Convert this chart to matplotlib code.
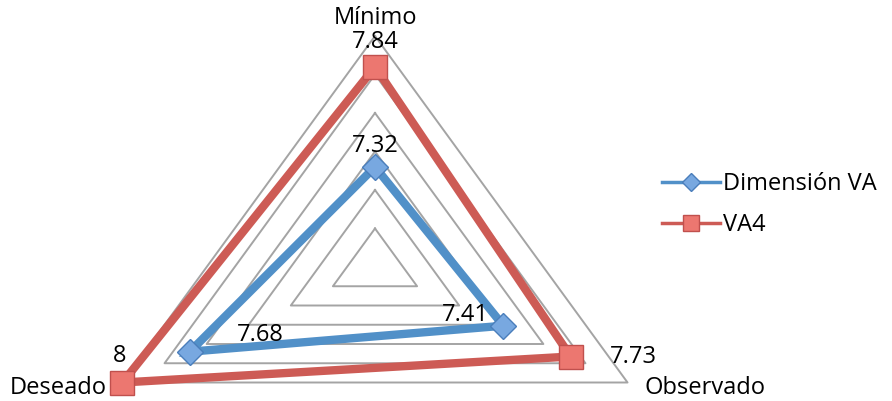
import numpy as np
import matplotlib
matplotlib.use("Agg")
import matplotlib.pyplot as plt
from matplotlib.lines import Line2D

plt.rcParams['font.family'] = ['Open Sans', 'DejaVu Sans']

# data
categories = ["Mínimo", "Observado", "Deseado"]
dimension_va = [7.32, 7.41, 7.68]
va4 = [7.84, 7.73, 8]
r_min, r_max, r_step = 6.8, 8.0, 0.2

angles = np.deg2rad([90, -30, 210])

def to_xy(vals):
    r = np.asarray(vals, dtype=float) - r_min
    return r*np.cos(angles), r*np.sin(angles)

fig = plt.figure(figsize=(8.92, 4.01), dpi=100)
ax = fig.add_axes([0, 0, 1, 1])
ax.axis('off')

# pixel scaling of the original (triangle is squashed vertically)
cx, cy = 375, 267
sx, sy = 243.0, 192.5
ax.set_xlim((0-cx)/sx, (892-cx)/sx)
ax.set_ylim((cy-401)/sy, (cy-0)/sy)

# grid rings
for lev in np.arange(r_min + r_step, r_max + 1e-9, r_step):
    gx, gy = to_xy([lev]*3)
    ax.plot(np.append(gx, gx[0]), np.append(gy, gy[0]), color='#a4a4a4', lw=1.4, zorder=1)

blue = '#5190C8'
red = '#CD5B55'

bx, by = to_xy(dimension_va)
ax.plot(np.append(bx, bx[0]), np.append(by, by[0]), color=blue, lw=6, zorder=3,
        solid_joinstyle='miter')
ax.plot(bx, by, ls='none', marker='D', ms=13, mfc='#78A8E0', mec='#4A7EBB', mew=1, zorder=4)

rx, ry = to_xy(va4)
ax.plot(np.append(rx, rx[0]), np.append(ry, ry[0]), color=red, lw=6, zorder=3,
        solid_joinstyle='miter')
ax.plot(rx, ry, ls='none', marker='s', ms=17, mfc='#EC7770', mec='#C0504D', mew=1, zorder=4)

fs = 17
def lab(txt, x, y, dx, dy):
    ax.annotate(txt, (x, y), xytext=(dx, dy), textcoords='offset points',
                ha='center', va='center', fontsize=fs)

# data labels
lab("7.84", rx[0], ry[0], 0, 18)
lab("7.32", bx[0], by[0], 0, 15)
lab("7.41", bx[1], by[1], -27, 8)
lab("7.73", rx[1], ry[1], 45, 0)
lab("7.68", bx[2], by[2], 51, 12)
lab("8", rx[2], ry[2], -2, 19)

# category labels
ox, oy = to_xy([r_max]*3)
lab(categories[0], ox[0], oy[0], 0, 13)
lab(categories[1], ox[1], oy[1], 56, -4)
lab(categories[2], ox[2], oy[2], -46, -4)

handles = [
    Line2D([], [], color=blue, lw=2.5, marker='D', ms=9, mfc='#78A8E0', mec='#4A7EBB'),
    Line2D([], [], color=red, lw=2.5, marker='s', ms=11, mfc='#EC7770', mec='#C0504D'),
]
ax.legend(handles, ["Dimensión VA", "VA4"], loc='center left', bbox_to_anchor=(0.742, 0.489),
          frameon=False, fontsize=fs, handlelength=2.45, handletextpad=0.15, labelspacing=0.72,
          borderaxespad=0, borderpad=0)

fig.savefig("out.png", dpi=100)
